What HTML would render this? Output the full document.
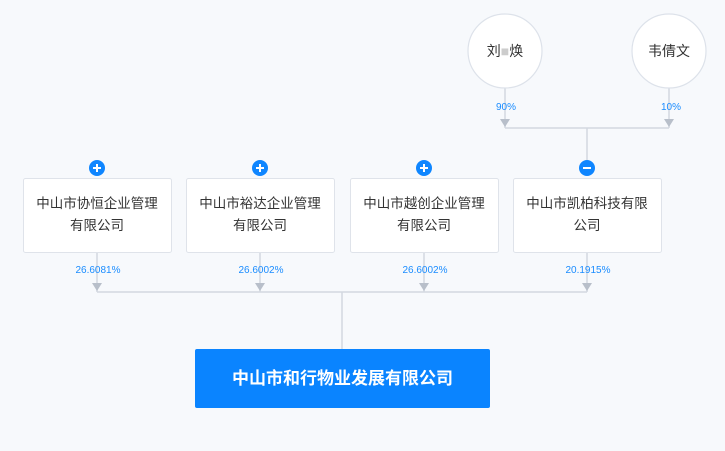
<!DOCTYPE html>
<html><head><meta charset="utf-8"><style>
html,body{margin:0;padding:0;background:#f7f9fc;}
svg{display:block;font-family:"Liberation Sans","Noto Sans CJK SC",sans-serif;}
</style></head><body>
<svg width="725" height="451" viewBox="0 0 725 451" xmlns="http://www.w3.org/2000/svg">
<rect width="725" height="451" fill="#f7f9fc"/>
<g stroke="#d3d8e0" stroke-width="1.5" fill="none">
<line x1="505" y1="88" x2="505" y2="128"/>
<line x1="669" y1="88" x2="669" y2="128"/>
<line x1="505" y1="128" x2="669" y2="128"/>
<line x1="587" y1="128" x2="587" y2="168"/>
<line x1="97" y1="252" x2="97" y2="292"/>
<line x1="260" y1="252" x2="260" y2="292"/>
<line x1="424" y1="252" x2="424" y2="292"/>
<line x1="587" y1="252" x2="587" y2="292"/>
<line x1="97" y1="292" x2="587" y2="292"/>
<line x1="342" y1="292" x2="342" y2="349"/>
</g>
<g fill="#b8bfca">
<polygon points="500,119 510,119 505,127"/>
<polygon points="664,119 674,119 669,127"/>
<polygon points="92,283 102,283 97,291"/>
<polygon points="255,283 265,283 260,291"/>
<polygon points="419,283 429,283 424,291"/>
<polygon points="582,283 592,283 587,291"/>
</g>
<circle cx="505" cy="51" r="37" fill="#fff" stroke="#dde2ea" stroke-width="1.2"/>
<circle cx="669" cy="51" r="37" fill="#fff" stroke="#dde2ea" stroke-width="1.2"/>
<text x="505" y="56" font-size="14" fill="#333" text-anchor="middle">刘<tspan fill="#ccc">■</tspan>焕</text>
<text x="669" y="56" font-size="14" fill="#333" text-anchor="middle">韦倩文</text>
<g font-size="10" fill="#1a8cff" text-anchor="middle">
<text x="506" y="110">90%</text>
<text x="671" y="110">10%</text>
<text x="98" y="273">26.6081%</text>
<text x="261" y="273">26.6002%</text>
<text x="425" y="273">26.6002%</text>
<text x="588" y="273">20.1915%</text>
</g>
<g fill="#fff" stroke="#dfe3ea" stroke-width="1">
<rect x="23.5" y="178.5" width="148" height="74" rx="2"/>
<rect x="186.5" y="178.5" width="148" height="74" rx="2"/>
<rect x="350.5" y="178.5" width="148" height="74" rx="2"/>
<rect x="513.5" y="178.5" width="148" height="74" rx="2"/>
</g>
<g font-size="13.5" fill="#333" text-anchor="middle">
<text x="97" y="208">中山市协恒企业管理</text><text x="97" y="230">有限公司</text>
<text x="260" y="208">中山市裕达企业管理</text><text x="260" y="230">有限公司</text>
<text x="424" y="208">中山市越创企业管理</text><text x="424" y="230">有限公司</text>
<text x="587" y="208">中山市凯柏科技有限</text><text x="587" y="230">公司</text>
</g>
<g fill="#0f86ff">
<circle cx="97" cy="168" r="8"/><circle cx="260" cy="168" r="8"/><circle cx="424" cy="168" r="8"/><circle cx="587" cy="168" r="8"/>
</g>
<g stroke="#fff" stroke-width="2">
<line x1="93" y1="168" x2="101" y2="168"/><line x1="97" y1="164" x2="97" y2="172"/>
<line x1="256" y1="168" x2="264" y2="168"/><line x1="260" y1="164" x2="260" y2="172"/>
<line x1="420" y1="168" x2="428" y2="168"/><line x1="424" y1="164" x2="424" y2="172"/>
<line x1="583" y1="168" x2="591" y2="168"/>
</g>
<rect x="195" y="349" width="295" height="59" rx="2" fill="#0a84ff"/>
<text x="342.5" y="384" font-size="17" font-weight="bold" fill="#fff" text-anchor="middle">中山市和行物业发展有限公司</text>
</svg>
</body></html>
